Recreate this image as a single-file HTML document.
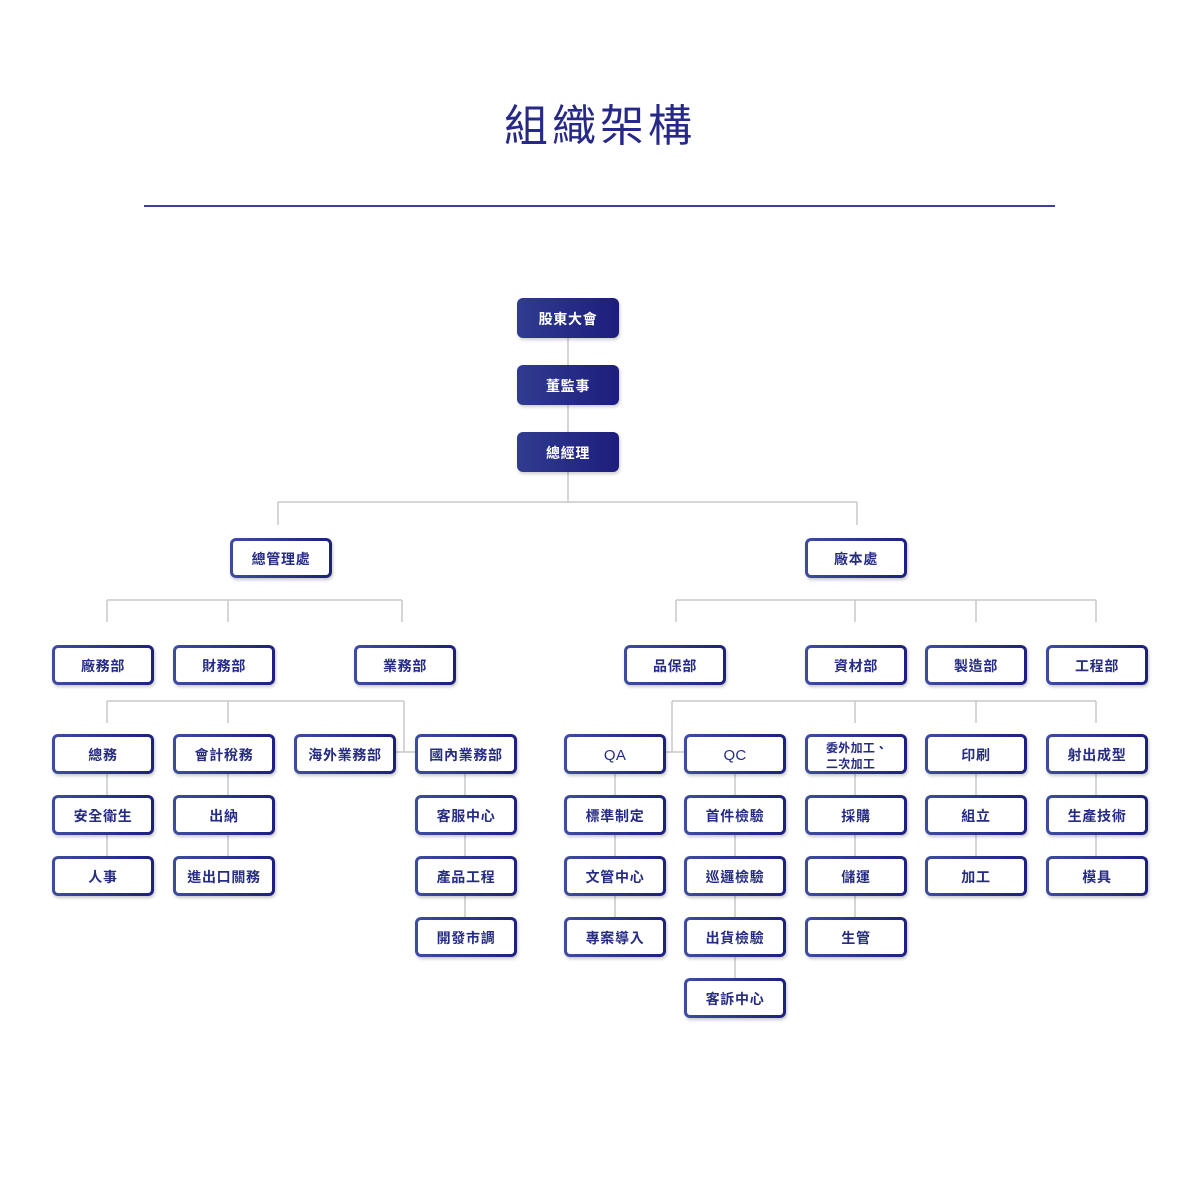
<!DOCTYPE html>
<html>
<head>
<meta charset="utf-8">
<style>
  html,body{margin:0;padding:0;background:#fff;}
  body{width:1200px;height:1200px;position:relative;overflow:hidden;
       font-family:"Liberation Sans","Noto Sans CJK TC","Noto Sans CJK SC",sans-serif;}
  .title{position:absolute;left:0;width:1200px;top:98px;text-align:center;
         font-size:44px;line-height:58px;color:#262a86;letter-spacing:4px;font-weight:400;
         padding-left:0px;box-sizing:border-box;}
  .rule{position:absolute;left:144px;top:205px;width:911px;height:2px;background:#3a3fa2;}
  svg.lines{position:absolute;left:0;top:0;}
  .b{position:absolute;height:40px;width:102px;box-sizing:border-box;border-radius:6px;
     border:3px solid transparent;
     background:linear-gradient(#fff,#fff) padding-box,linear-gradient(to right,#3e4c9f,#1d207f) border-box;
     box-shadow:1px 2px 3px rgba(0,0,0,0.22);
     display:flex;align-items:center;justify-content:center;padding-top:2px;
     color:#262c83;font-weight:700;font-size:14px;letter-spacing:0.7px;white-space:nowrap;}
  .f{border:none;background:linear-gradient(to right,#2f3c8f,#1e1d7d);color:#fff;
     box-shadow:1px 2px 3px rgba(0,0,0,0.2);}
  .lat{font-weight:400;font-size:15px;letter-spacing:0.3px;}
  .tw{justify-content:flex-start;padding:4px 0 0 18px;}
  .two{font-size:12px;line-height:16px;letter-spacing:0.3px;text-align:left;display:block;}
</style>
</head>
<body>
<div class="title">組織架構</div>
<div class="rule"></div>

<svg class="lines" width="1200" height="1200" viewBox="0 0 1200 1200">
  <g stroke="#c8c8c8" stroke-width="1.5" fill="none">
    <line x1="568" y1="338" x2="568" y2="502"/>
    <line x1="278" y1="502" x2="857" y2="502"/>
    <line x1="278" y1="502" x2="278" y2="525"/>
    <line x1="857" y1="502" x2="857" y2="525"/>
    <line x1="107" y1="600" x2="402" y2="600"/>
    <line x1="107" y1="600" x2="107" y2="622"/>
    <line x1="228" y1="600" x2="228" y2="622"/>
    <line x1="402" y1="600" x2="402" y2="622"/>
    <line x1="676" y1="600" x2="1096" y2="600"/>
    <line x1="676" y1="600" x2="676" y2="622"/>
    <line x1="855" y1="600" x2="855" y2="622"/>
    <line x1="976" y1="600" x2="976" y2="622"/>
    <line x1="1096" y1="600" x2="1096" y2="622"/>
    <line x1="107" y1="701" x2="404" y2="701"/>
    <line x1="107" y1="701" x2="107" y2="723"/>
    <line x1="228" y1="701" x2="228" y2="723"/>
    <line x1="404" y1="701" x2="404" y2="752"/>
    <line x1="395" y1="752" x2="415" y2="752"/>
    <line x1="672" y1="701" x2="1096" y2="701"/>
    <line x1="672" y1="701" x2="672" y2="752"/>
    <line x1="664" y1="752" x2="684" y2="752"/>
    <line x1="855" y1="701" x2="855" y2="723"/>
    <line x1="976" y1="701" x2="976" y2="723"/>
    <line x1="1096" y1="701" x2="1096" y2="723"/>
    <line x1="107" y1="774" x2="107" y2="856"/>
    <line x1="228" y1="774" x2="228" y2="856"/>
    <line x1="465" y1="774" x2="465" y2="917"/>
    <line x1="615" y1="774" x2="615" y2="917"/>
    <line x1="735" y1="774" x2="735" y2="978"/>
    <line x1="855" y1="774" x2="855" y2="917"/>
    <line x1="976" y1="774" x2="976" y2="856"/>
    <line x1="1096" y1="774" x2="1096" y2="856"/>
  </g>
</svg>

<div class="b f" style="left:517px;top:298px;">股東大會</div>
<div class="b f" style="left:517px;top:365px;">董監事</div>
<div class="b f" style="left:517px;top:432px;">總經理</div>

<div class="b" style="left:230px;top:538px;">總管理處</div>
<div class="b" style="left:805px;top:538px;">廠本處</div>

<div class="b" style="left:52px;top:645px;">廠務部</div>
<div class="b" style="left:173px;top:645px;">財務部</div>
<div class="b" style="left:354px;top:645px;">業務部</div>
<div class="b" style="left:624px;top:645px;">品保部</div>
<div class="b" style="left:805px;top:645px;">資材部</div>
<div class="b" style="left:925px;top:645px;">製造部</div>
<div class="b" style="left:1046px;top:645px;">工程部</div>

<div class="b" style="left:52px;top:734px;">總務</div>
<div class="b" style="left:173px;top:734px;">會計稅務</div>
<div class="b" style="left:294px;top:734px;">海外業務部</div>
<div class="b" style="left:415px;top:734px;">國內業務部</div>
<div class="b lat" style="left:564px;top:734px;">QA</div>
<div class="b lat" style="left:684px;top:734px;">QC</div>
<div class="b tw" style="left:805px;top:734px;"><span class="two">委外加工、<br>二次加工</span></div>
<div class="b" style="left:925px;top:734px;">印刷</div>
<div class="b" style="left:1046px;top:734px;">射出成型</div>

<div class="b" style="left:52px;top:795px;">安全衛生</div>
<div class="b" style="left:173px;top:795px;">出納</div>
<div class="b" style="left:415px;top:795px;">客服中心</div>
<div class="b" style="left:564px;top:795px;">標準制定</div>
<div class="b" style="left:684px;top:795px;">首件檢驗</div>
<div class="b" style="left:805px;top:795px;">採購</div>
<div class="b" style="left:925px;top:795px;">組立</div>
<div class="b" style="left:1046px;top:795px;">生產技術</div>

<div class="b" style="left:52px;top:856px;">人事</div>
<div class="b" style="left:173px;top:856px;">進出口關務</div>
<div class="b" style="left:415px;top:856px;">產品工程</div>
<div class="b" style="left:564px;top:856px;">文管中心</div>
<div class="b" style="left:684px;top:856px;">巡邏檢驗</div>
<div class="b" style="left:805px;top:856px;">儲運</div>
<div class="b" style="left:925px;top:856px;">加工</div>
<div class="b" style="left:1046px;top:856px;">模具</div>

<div class="b" style="left:415px;top:917px;">開發市調</div>
<div class="b" style="left:564px;top:917px;">專案導入</div>
<div class="b" style="left:684px;top:917px;">出貨檢驗</div>
<div class="b" style="left:805px;top:917px;">生管</div>

<div class="b" style="left:684px;top:978px;">客訴中心</div>
</body>
</html>
